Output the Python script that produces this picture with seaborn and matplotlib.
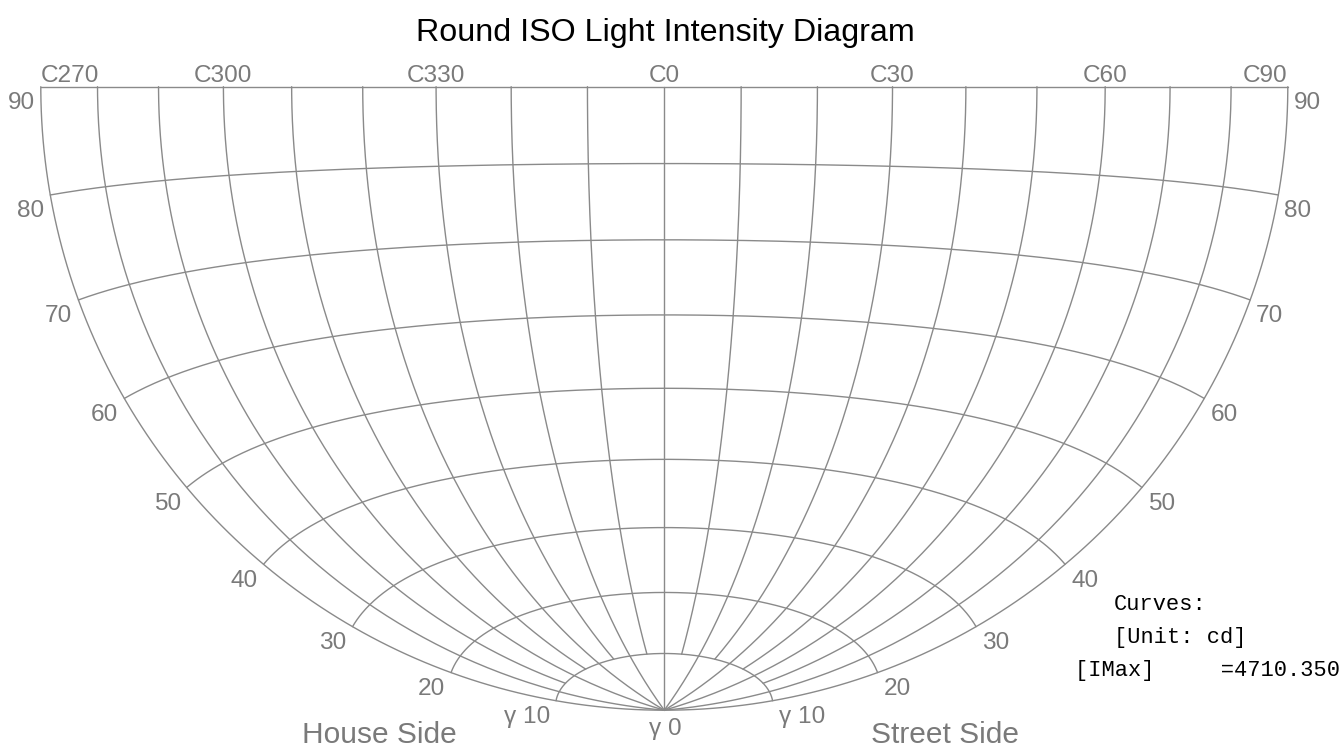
import numpy as np
import pandas as pd
import matplotlib
matplotlib.use('Agg')
import matplotlib.pyplot as plt
from matplotlib import font_manager
import seaborn as sns

# grid values of the round ISO diagram
gamma_rings = [10, 20, 30, 40, 50, 60, 70, 80, 90]
c_planes = [270, 280, 290, 300, 310, 320, 330, 340, 350, 0, 10, 20, 30, 40, 50, 60, 70, 80, 90]
c_label_planes = [270, 300, 330, 0, 30, 60, 90]
side_gamma_labels = [90, 80, 70, 60, 50, 40, 30, 20, 10]
imax_cd = 4710.350
unit = 'cd'

# layout (pixels)
CX, CY, R = 664.3, 86.7, 623.5
GRID = '#8a8a8a'
LABEL = '#7a7a7a'

names = {f.name for f in font_manager.fontManager.ttflist}
narrow = ['Liberation Sans Narrow'] if 'Liberation Sans Narrow' in names else ['Liberation Sans', 'DejaVu Sans']
label_size = 18.4 if 'Liberation Sans Narrow' in names else 17.6
if 'Noto Sans Mono CJK SC' in names:
    mono, mono_size = ['Noto Sans Mono CJK SC'], 18.7
else:
    mono, mono_size = ['Liberation Mono', 'DejaVu Sans Mono'], 15.8


def project(g, c):
    # Lambert azimuthal equal-area view centred on the horizontal C0 direction
    g = np.radians(g)
    c = np.radians(np.where(np.asarray(c) > 180, np.asarray(c) - 360, c))
    dx = np.sin(g) * np.sin(c)
    dy = np.sin(g) * np.cos(c)
    dz = -np.cos(g)
    k = 1.0 / np.sqrt(1.0 + dy)
    return CX + R * k * dx, CY - R * k * dz


rows = []
cs = np.linspace(-90, 90, 361)
for g in gamma_rings:
    x, y = project(np.full_like(cs, g), cs)
    rows.append(pd.DataFrame({'x': x, 'y': y, 'curve': f'g{g}'}))
for c in c_planes:
    cc = c - 360 if c > 180 else c
    g0 = 0 if (cc % 20 == 0 or abs(cc) == 90) else 10
    gs = np.linspace(g0, 90, 200)
    x, y = project(gs, np.full_like(gs, c))
    rows.append(pd.DataFrame({'x': x, 'y': y, 'curve': f'c{c}'}))
grid = pd.concat(rows, ignore_index=True)

sns.set_theme(style='white')
fig = plt.figure(figsize=(13.4, 7.47), dpi=100)
ax = fig.add_axes([0, 0, 1, 1])
sns.lineplot(data=grid, x='x', y='y', units='curve', estimator=None, sort=False,
             color=GRID, linewidth=1.0, legend=False, ax=ax)
ax.set_xlim(0, 1340)
ax.set_ylim(747, 0)
ax.axis('off')

ax.text(665.5, 41, 'Round ISO Light Intensity Diagram', ha='center', va='baseline',
        fontsize=23.2, family=['Liberation Sans', 'DejaVu Sans'], color='black')

# C plane labels along the top
for c in c_label_planes:
    x, _ = project(90, c)
    ha = 'center'
    if c == 270:
        x, ha = CX - R, 'left'
    elif c == 90:
        x, ha = CX + R, 'right'
    ax.text(x, 81.5, f'C{c}', ha=ha, va='baseline', fontsize=label_size,
            family=narrow, color=LABEL)

# gamma labels along both edges
for g in side_gamma_labels:
    txt = f'γ {g}' if g == 10 else f'{g}'
    xl, yl = project(g, 270)
    xr, yr = project(g, 90)
    ax.text(xl - 6, yl + 5.5, txt, ha='right', va='top', fontsize=label_size,
            family=narrow, color=LABEL)
    ax.text(xr + 6, yr + 5.5, txt, ha='left', va='top', fontsize=label_size,
            family=narrow, color=LABEL)
ax.text(CX + 1, CY + R + 8, 'γ 0', ha='center', va='top', fontsize=label_size,
        family=narrow, color=LABEL)

ax.text(457, 743, 'House Side', ha='right', va='baseline', fontsize=21.5,
        family=['Liberation Sans', 'DejaVu Sans'], color=LABEL)
ax.text(871, 743, 'Street Side', ha='left', va='baseline', fontsize=21.5,
        family=['Liberation Sans', 'DejaVu Sans'], color=LABEL)

# curve info block
ax.text(1114, 610, 'Curves:', ha='left', va='baseline', fontsize=mono_size, family=mono, color='black')
ax.text(1114, 643, f'[Unit: {unit}]', ha='left', va='baseline', fontsize=mono_size, family=mono, color='black')
ax.text(1075, 676, f'[IMax]{" " * 5}={imax_cd:.3f}', ha='left', va='baseline', fontsize=mono_size,
        family=mono, color='black')

fig.savefig('out.png', dpi=100)
